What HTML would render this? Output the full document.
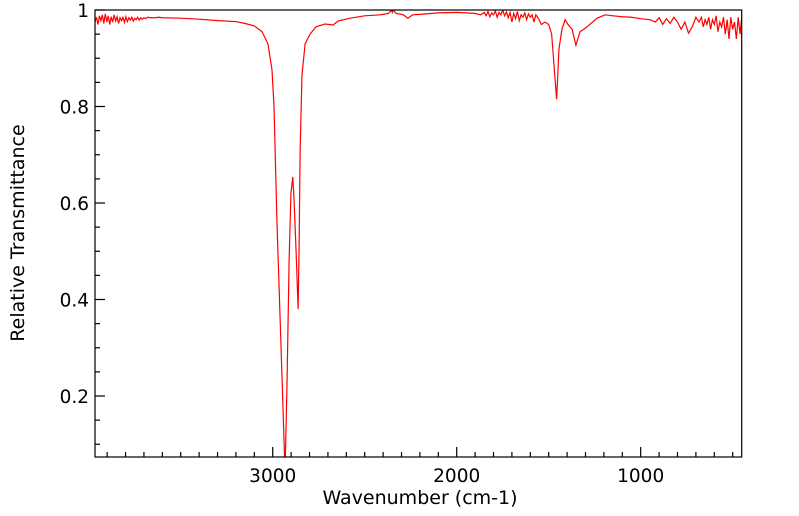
<!DOCTYPE html>
<html><head><meta charset="utf-8">
<style>
html,body{margin:0;padding:0;background:#fff;}
svg{display:block;font-family:"DejaVu Sans","Liberation Sans",sans-serif;}
</style></head>
<body>
<svg id="chart" width="799" height="516" viewBox="0 0 799 516" xmlns="http://www.w3.org/2000/svg">
<defs><clipPath id="plotclip"><rect x="95" y="10" width="646.7" height="447"/></clipPath></defs>
<rect x="0" y="0" width="799" height="516" fill="#fff"/>
<g id="ticks"></g>
<g id="series" clip-path="url(#plotclip)"></g>
<rect x="95" y="10" width="646.7" height="447" fill="none" stroke="#000" stroke-width="1.2"/>
<text x="420" y="504" font-size="19" text-anchor="middle">Wavenumber (cm-1)</text>
<text x="24" y="233" font-size="19" text-anchor="middle" transform="rotate(-90 24 233)">Relative Transmittance</text>
</svg>
<script>
const wavenumbers = [3966,3958,3950,3942,3934,3926,3918,3910,3902,3894,3886,3878,3870,3862,3854,3846,3838,3830,3822,3814,3806,3798,3790,3782,3774,3766,3758,3750,3742,3734,3726,3718,3710,3700,3690,3680,3660,3640,3620,3600,3500,3400,3300,3200,3150,3100,3058,3026,3004,2993,2985,2977,2965,2949,2933,2922,2911,2901,2891,2884,2873,2862,2857,2851,2841,2824,2797,2765,2716,2672,2645,2580,2500,2415,2370,2355,2350,2345,2330,2290,2265,2240,2200,2100,2000,1950,1900,1870,1850,1840,1830,1820,1810,1800,1790,1780,1770,1760,1750,1740,1730,1720,1710,1700,1690,1680,1670,1660,1650,1640,1630,1620,1610,1600,1590,1580,1570,1560,1550,1540,1520,1500,1484,1470,1457,1444,1428,1411,1395,1373,1352,1330,1303,1280,1237,1193,1150,1100,1050,1000,950,920,900,880,860,840,820,800,780,760,740,720,700,683,670,660,650,640,630,620,610,600,590,580,570,560,550,540,530,520,510,500,490,480,470,460,452];
const transmittance = [0.975,0.985,0.97,0.988,0.978,0.99,0.972,0.992,0.975,0.988,0.97,0.986,0.975,0.99,0.977,0.986,0.972,0.984,0.978,0.985,0.974,0.986,0.976,0.984,0.979,0.985,0.977,0.983,0.98,0.985,0.979,0.984,0.981,0.984,0.982,0.985,0.984,0.984,0.985,0.984,0.983,0.981,0.978,0.976,0.972,0.967,0.955,0.93,0.876,0.8,0.68,0.56,0.42,0.233,0.04,0.233,0.48,0.62,0.654,0.606,0.50,0.38,0.50,0.71,0.865,0.93,0.95,0.965,0.971,0.969,0.977,0.983,0.988,0.99,0.993,1.0,0.995,1.0,0.993,0.99,0.983,0.99,0.991,0.994,0.995,0.994,0.993,0.99,0.995,0.988,0.997,0.986,0.994,0.99,0.998,0.985,0.995,0.99,1.0,0.988,0.996,0.984,0.995,0.975,0.993,0.982,0.997,0.978,0.99,0.985,0.994,0.98,0.992,0.985,0.99,0.975,0.99,0.985,0.978,0.97,0.975,0.97,0.95,0.88,0.815,0.92,0.96,0.98,0.97,0.96,0.927,0.955,0.962,0.969,0.983,0.99,0.988,0.986,0.985,0.982,0.98,0.975,0.984,0.97,0.982,0.972,0.985,0.975,0.96,0.975,0.952,0.965,0.985,0.975,0.985,0.965,0.98,0.97,0.985,0.96,0.98,0.97,0.988,0.955,0.975,0.965,0.985,0.95,0.98,0.94,0.985,0.96,0.975,0.94,0.985,0.95,0.98,0.94,0.99,1.0];
const xTickValues = [3000,2000,1000];
const xTickLabels = ["3000","2000","1000"];
const yTickValues = [0.2,0.4,0.6,0.8,1.0];
const yTickLabels = ["0.2","0.4","0.6","0.8","1"];

const X0=95, X1=741.7, Y0=10, Y1=457;
const W_LEFT=3966, W_RIGHT=451, T_TOP=1.0, T_BOT=0.0736;
function xScale(w){return X0+(W_LEFT-w)/(W_LEFT-W_RIGHT)*(X1-X0);}
function yScale(t){return Y0+(T_TOP-t)/(T_TOP-T_BOT)*(Y1-Y0);}
const NS="http://www.w3.org/2000/svg";
const ticks=document.getElementById('ticks');
const series=document.getElementById('series');

function line(x1,y1,x2,y2,name){
  const l=document.createElementNS(NS,'line');
  l.setAttribute('x1',x1);l.setAttribute('y1',y1);l.setAttribute('x2',x2);l.setAttribute('y2',y2);
  l.setAttribute('stroke','#000');l.setAttribute('stroke-width','1.2');
  
  
  ticks.appendChild(l);
}
function label(x,y,txt,anchor,name){
  const t=document.createElementNS(NS,'text');
  t.setAttribute('x',x);t.setAttribute('y',y);t.setAttribute('font-size','18.5');
  t.setAttribute('text-anchor',anchor);t.textContent=txt;
  
  
  ticks.appendChild(t);
}
for(let w=3900; w>=500; w-=100){
  const x=xScale(w);
  const major = w%1000===0;
  line(x,Y1,x,Y1-(major?10:5), major?'x-major-tick':'x-minor-tick');
}
xTickValues.forEach((v,i)=>label(xScale(v),Y1+25,xTickLabels[i],'middle','x-tick-label'));
for(let k=2;k<=20;k++){
  const t=k*0.05; const y=yScale(t);
  const major = k%4===0;
  line(X0,y,X0+(major?10:5),y, major?'y-major-tick':'y-minor-tick');
}
yTickValues.forEach((v,i)=>label(X0-6,yScale(v)+7,yTickLabels[i],'end','y-tick-label'));

let d='';
wavenumbers.forEach((w,i)=>{d+=(i?'L':'M')+xScale(w).toFixed(2)+','+yScale(transmittance[i]).toFixed(2);});
const p=document.createElementNS(NS,'path');
p.setAttribute('d',d);p.setAttribute('fill','none');p.setAttribute('stroke','#ff0000');p.setAttribute('stroke-width','1.2');


series.appendChild(p);
</script>
</body></html>
